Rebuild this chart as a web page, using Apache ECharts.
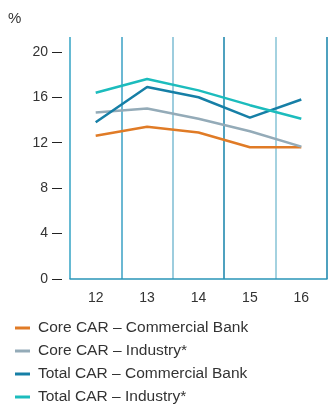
<!DOCTYPE html>
<html>
<head>
<meta charset="utf-8">
<script src="https://cdn.jsdelivr.net/npm/echarts@6/dist/echarts.min.js"></script>
<style>
  html, body { margin: 0; padding: 0; background: #fff; }
  #chart { width: 328px; height: 404px; }
</style>
</head>
<body>
<div id="chart"></div>
<script>
const years = ["12", "13", "14", "15", "16"];
const coreBank = [12.6, 13.4, 12.9, 11.6, 11.6];
const coreIndustry = [14.65, 15.0, 14.1, 13.0, 11.65];
const totalBank = [13.8, 16.9, 16.0, 14.2, 15.8];
const totalIndustry = [16.4, 17.6, 16.6, 15.3, 14.1];

const FONT = "Liberation Sans, Arial, sans-serif";

var myChart = echarts.init(document.getElementById("chart"));

function line(name, data, color) {
  return {
    name: name,
    type: "line",
    data: data,
    symbol: "none",
    lineStyle: { width: 2.5, color: color },
    itemStyle: { color: color },
    animation: false,
  };
}

myChart.setOption({
  animation: false,
  title: {
    text: "%",
    left: 3,
    top: 6,
    textStyle: { fontFamily: FONT, fontSize: 15, fontWeight: "normal", color: "#333" },
  },
  grid: { left: 70, right: 1, top: 37, bottom: 125 },
  legend: {
    orient: "vertical",
    left: 15,
    top: 320,
    height: 120,
    padding: 0,
    itemWidth: 15,
    itemHeight: 3,
    itemGap: 7,
    icon: "rect",
    textStyle: { fontFamily: FONT, fontSize: 15.5, color: "#333", lineHeight: 16, padding: [0, 0, 0, 3] },
  },
  xAxis: {
    type: "category",
    data: years,
    boundaryGap: true,
    axisLine: { lineStyle: { color: "#2a95b8", width: 1.5 } },
    axisTick: { show: false },
    axisLabel: { fontFamily: FONT, fontSize: 14, color: "#333", margin: 12 },
    splitLine: {
      show: true,
      interval: 0,
      lineStyle: {
        width: 1.5,
        color: ["#33a3c5", "#3aa0c4", "#7dbdd3", "#1582aa", "#86c3d6", "#1582aa"],
      },
    },
  },
  yAxis: {
    type: "value",
    min: 0,
    max: 21.3,
    interval: 4,
    offset: 8,
    axisLine: { show: false },
    axisTick: { show: true, length: 10, lineStyle: { color: "#222", width: 1 } },
    axisLabel: { fontFamily: FONT, fontSize: 14, color: "#333", margin: 14, showMaxLabel: false },
    splitLine: { show: false },
  },
  series: [
    line("Core CAR – Commercial Bank", coreBank, "#e07b26"),
    line("Core CAR – Industry*", coreIndustry, "#94abb8"),
    line("Total CAR – Commercial Bank", totalBank, "#167fa6"),
    line("Total CAR – Industry*", totalIndustry, "#1cbcbd"),
  ],
});
</script>
</body>
</html>
